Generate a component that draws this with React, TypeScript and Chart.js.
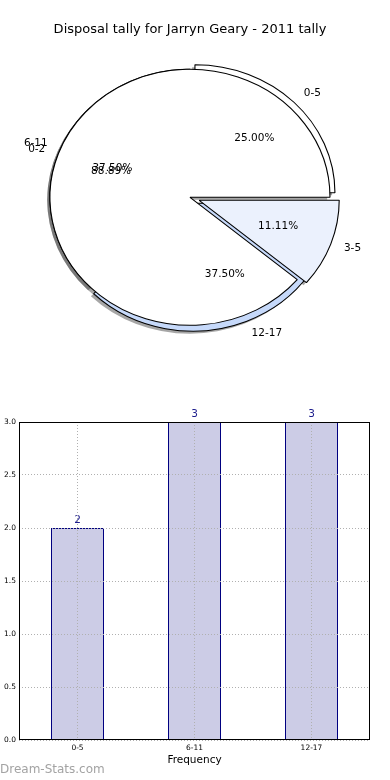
import { useEffect, useRef } from 'react';
import { Chart, registerables } from 'chart.js';

Chart.register(...registerables);

// ---------- data ----------
const TITLE = 'Disposal tally for Jarryn Geary - 2011 tally';
const ageGroups = ['0-5', '6-11', '12-17'];
const ageCounts = [2, 3, 3];
const subGroups = ['0-2', '3-5'];
const subCounts = [8, 1];
const X_TITLE = 'Frequency';
const WATERMARK = 'Dream-Stats.com';

// ---------- style ----------
const FONT = '"DejaVu Sans", "Liberation Sans", sans-serif';
const PIE_R = 128;
const SX = 140 / 128; // horizontal stretch of the pie (ellipse)
const explodeA = [0.05, 0, 0.05];
const explodeB = [0, 0.07];
const colorsA = ['#ffffff', '#ffffff', '#c6d9fa'];
const colorsB = ['#ffffff', '#ebf1fd'];
const SHADOW = 'rgba(77,77,77,0.5)';

const charts: { a: Chart | null; b: Chart | null } = { a: null, b: null };

type Slice = { x: number; y: number; s: number; t: number; r: number; m: number; e: number; el: any; value: number; total: number; label: string };

function slices(chart: Chart): Slice[] {
  const meta = chart.getDatasetMeta(0);
  const ds: any = chart.data.datasets[0];
  const vals: number[] = ds.data as number[];
  const total = vals.reduce((p, c) => p + c, 0);
  return meta.data.map((el: any, i: number) => {
    const m = (el.startAngle + el.endAngle) / 2;
    return {
      x: el.x, y: el.y, s: el.startAngle, t: el.endAngle, r: el.outerRadius, m,
      e: (ds.explode?.[i] ?? 0) * el.outerRadius, el, value: vals[i], total,
      label: String((chart.data.labels as string[])[i]),
    };
  });
}

function ellipse(ctx: CanvasRenderingContext2D, cx: number, cy: number, fn: () => void) {
  ctx.save();
  ctx.translate(cx, cy);
  ctx.scale(SX, 1);
  ctx.translate(-cx, -cy);
  fn();
  ctx.restore();
}

const piePlugin = {
  id: 'ellipsePie',
  beforeDatasetsDraw(chart: Chart) {
    if (chart !== charts.a) return;
    const ctx = chart.ctx;
    [charts.a, charts.b].forEach((c) => {
      if (!c) return;
      slices(c).forEach((sl) => {
        ellipse(ctx, sl.x, sl.y, () => {
          ctx.save();
          ctx.translate(Math.cos(sl.m) * sl.e - 0.02 * sl.r, Math.sin(sl.m) * sl.e + 0.02 * sl.r);
          ctx.beginPath();
          ctx.moveTo(sl.x, sl.y);
          ctx.arc(sl.x, sl.y, sl.r, sl.s, sl.t);
          ctx.closePath();
          ctx.fillStyle = SHADOW;
          ctx.fill();
          ctx.restore();
        });
      });
    });
  },
  beforeDatasetDraw(chart: Chart) {
    const ctx = chart.ctx;
    slices(chart).forEach((sl) => {
      ellipse(ctx, sl.x, sl.y, () => {
        ctx.save();
        ctx.translate(Math.cos(sl.m) * sl.e, Math.sin(sl.m) * sl.e);
        sl.el.draw(ctx);
        ctx.restore();
      });
    });
    return false;
  },
  afterDatasetsDraw(chart: Chart) {
    if (chart !== charts.b) return;
    const ctx = chart.ctx;
    ctx.save();
    ctx.font = `10.5px ${FONT}`;
    ctx.fillStyle = '#000';
    ctx.textBaseline = 'middle';
    [charts.a, charts.b].forEach((c) => {
      if (!c) return;
      slices(c).forEach((sl) => {
        const cs = Math.cos(sl.m), sn = Math.sin(sl.m);
        const pr = 0.6 * sl.r + sl.e;
        ctx.textAlign = 'center';
        ctx.fillText(((sl.value / sl.total) * 100).toFixed(2) + '%', sl.x + SX * cs * pr, sl.y + sn * pr);
        const lr = 1.1 * sl.r + sl.e;
        ctx.textAlign = cs > 0 ? 'left' : 'right';
        ctx.fillText(sl.label, sl.x + SX * cs * lr, sl.y + sn * lr);
      });
    });
    ctx.restore();
  },
};

const barPlugin = {
  id: 'barExtras',
  afterDatasetsDraw(chart: Chart) {
    const ctx = chart.ctx;
    const meta = chart.getDatasetMeta(0);
    const vals = chart.data.datasets[0].data as number[];
    ctx.save();
    ctx.font = `10.5px ${FONT}`;
    ctx.fillStyle = '#1c1c8c';
    ctx.textAlign = 'center';
    ctx.textBaseline = 'middle';
    meta.data.forEach((el: any, i: number) => {
      ctx.fillText(String(vals[i]), el.x, el.y - 8);
    });
    ctx.restore();
  },
  afterDraw(chart: Chart) {
    const ctx = chart.ctx;
    const a = chart.chartArea;
    ctx.save();
    ctx.strokeStyle = '#000';
    ctx.lineWidth = 1;
    const l = Math.round(a.left) + 0.5, t = Math.round(a.top) + 0.5;
    const r = Math.round(a.right) - 0.5, b = Math.round(a.bottom) - 0.5;
    ctx.strokeRect(l, t, r - l, b - t);
    ctx.font = `12px ${FONT}`;
    ctx.fillStyle = '#a3a3a3';
    ctx.textAlign = 'left';
    ctx.textBaseline = 'middle';
    ctx.fillText(WATERMARK, 0, chart.height - 10);
    ctx.restore();
  },
};

function rev<T>(arr: T[]): T[] {
  return arr.slice().reverse();
}

export default function App() {
  const pieARef = useRef<HTMLCanvasElement>(null);
  const pieBRef = useRef<HTMLCanvasElement>(null);
  const barRef = useRef<HTMLCanvasElement>(null);

  useEffect(() => {
    document.body.style.margin = '0';
    const titleBox = 22 + 13 * 1.2;
    const pieOptions = (withTitle: boolean): any => ({
      responsive: false,
      animation: false,
      events: [],
      rotation: 90,
      layout: { padding: { top: withTitle ? 0 : titleBox, right: 10, left: 0, bottom: 0 } },
      plugins: {
        legend: { display: false },
        tooltip: { enabled: false },
        title: {
          display: withTitle,
          text: TITLE,
          color: '#000',
          font: { family: FONT, size: 13, weight: 'normal', lineHeight: 1.2 },
          padding: { top: 22, bottom: 0 },
        },
      },
    });

    const a = new Chart(pieARef.current!, {
      type: 'pie',
      data: {
        labels: rev(ageGroups),
        datasets: [{
          data: rev(ageCounts),
          backgroundColor: rev(colorsA),
          borderColor: '#000',
          borderWidth: 1,
          radius: PIE_R,
          explode: rev(explodeA),
        } as any],
      },
      options: pieOptions(false),
      plugins: [piePlugin],
    });
    charts.a = a;

    const b = new Chart(pieBRef.current!, {
      type: 'pie',
      data: {
        labels: rev(subGroups),
        datasets: [{
          data: rev(subCounts),
          backgroundColor: rev(colorsB),
          borderColor: '#000',
          borderWidth: 1,
          radius: PIE_R,
          explode: rev(explodeB),
        } as any],
      },
      options: pieOptions(true),
      plugins: [piePlugin],
    });
    charts.b = b;
    a.draw();
    b.draw();

    const gridCommon = { color: '#b0b0b0', lineWidth: 1, drawTicks: false, z: 1 };
    const borderCommon = { display: false, dash: [1, 2] };
    const bar = new Chart(barRef.current!, {
      type: 'bar',
      data: {
        labels: ageGroups,
        datasets: [{
          data: ageCounts,
          backgroundColor: '#ccccE6',
          borderColor: '#000080',
          borderWidth: 1,
          barPercentage: 53 / 117,
          categoryPercentage: 1,
        }],
      },
      options: {
        responsive: false,
        animation: false,
        events: [],
        layout: { padding: { top: 32, right: 20, left: 0, bottom: 0 } },
        plugins: { legend: { display: false }, tooltip: { enabled: false } },
        scales: {
          x: {
            grid: { ...gridCommon, offset: false },
            border: borderCommon,
            ticks: { font: { family: FONT, size: 7.5 }, color: '#000', padding: 4, maxRotation: 0 },
            title: {
              display: true,
              text: X_TITLE,
              color: '#000',
              font: { family: FONT, size: 10.5, lineHeight: 1.2 },
              padding: { top: 0, bottom: 13 },
            },
            afterFit: (s: any) => { s.height = 40; },
          },
          y: {
            min: 0,
            max: 3,
            grid: gridCommon,
            border: borderCommon,
            ticks: {
              stepSize: 0.5,
              font: { family: FONT, size: 7.5 },
              color: '#000',
              padding: 3,
              callback: (v: any) => Number(v).toFixed(1),
            },
            afterFit: (s: any) => { s.width = 19; },
          },
        },
      } as any,
      plugins: [barPlugin],
    });

    return () => {
      b.destroy();
      a.destroy();
      bar.destroy();
      charts.a = null;
      charts.b = null;
    };
  }, []);

  return (
    <div style={{ position: 'relative', width: 390, height: 780, background: '#fff' }}>
      <canvas ref={pieARef} width={390} height={357} style={{ position: 'absolute', left: 0, top: 0 }} />
      <canvas ref={pieBRef} width={390} height={357} style={{ position: 'absolute', left: 0, top: 0 }} />
      <canvas ref={barRef} width={390} height={390} style={{ position: 'absolute', left: 0, top: 390 }} />
    </div>
  );
}
